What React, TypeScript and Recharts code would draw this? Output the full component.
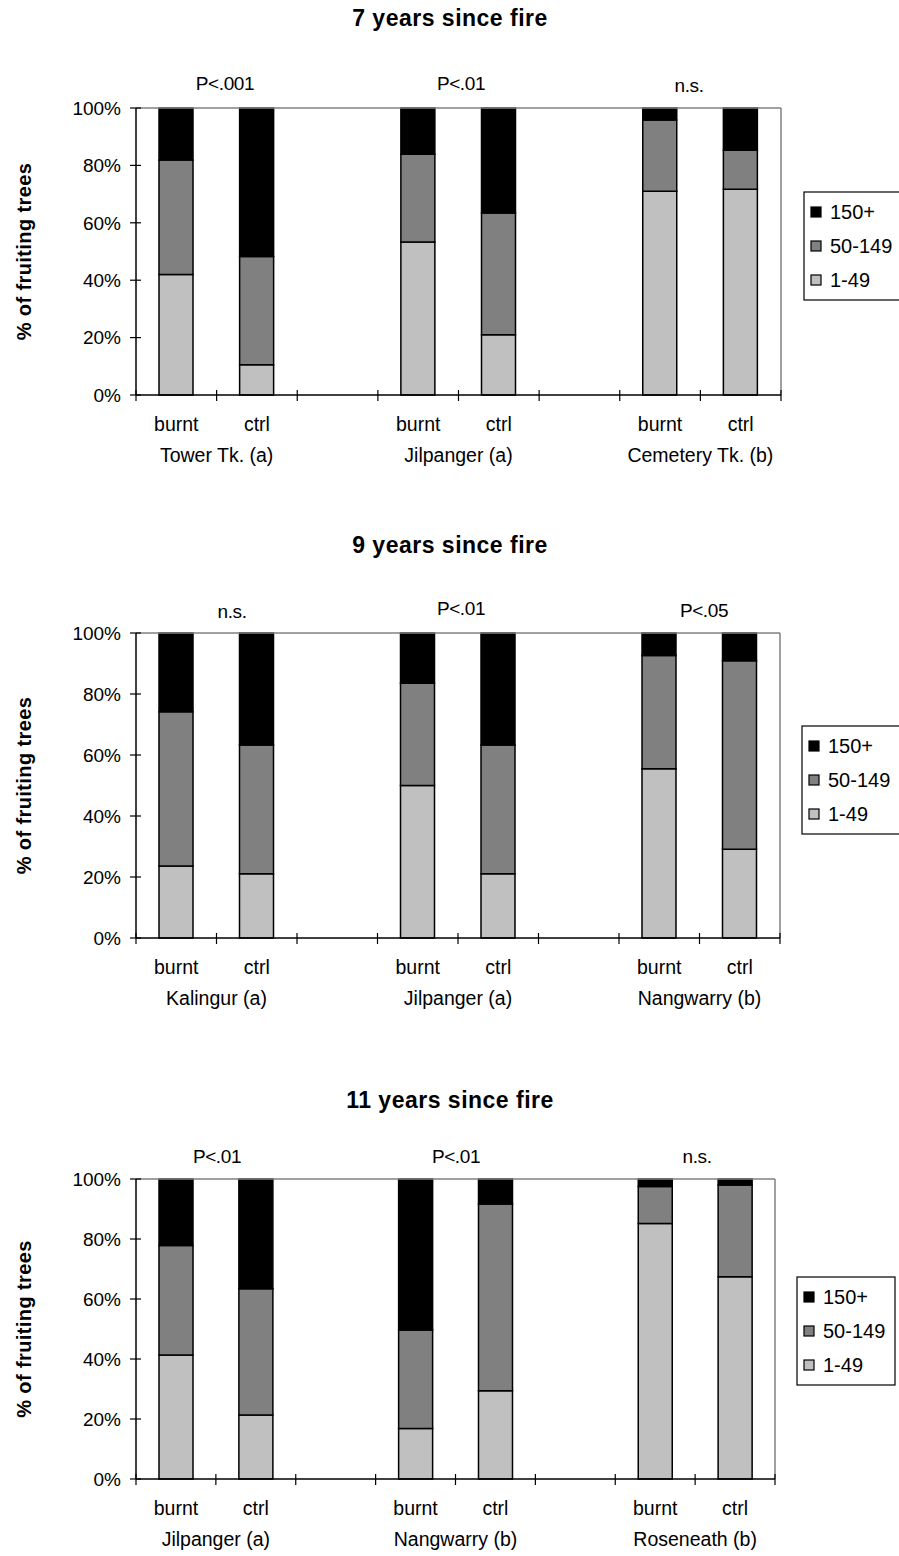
import React from "react";
import { Bar, BarChart, ReferenceLine, XAxis, YAxis } from "recharts";

const FONT = '"Liberation Sans", Arial, Helvetica, sans-serif';

// Shared categories: burnt / control pairs with an empty slot between sites
const slotLabels = ["burnt", "ctrl", "", "burnt", "ctrl", "", "burnt", "ctrl"];
const sizeClasses = ["150+", "50-149", "1-49"];
const pctTicks = [0, 20, 40, 60, 80, 100];

// 7 years since fire
const sites7 = ["Tower Tk. (a)", "Jilpanger (a)", "Cemetery Tk. (b)"];
const sig7 = ["P<.001", "P<.01", "n.s."];
const small7 = [42.0, 10.5, null, 53.3, 21.0, null, 71.0, 71.7];
const medium7 = [39.9, 37.8, null, 30.6, 42.4, null, 24.8, 13.6];
const large7 = [18.1, 51.7, null, 16.1, 36.6, null, 4.2, 14.7];

// 9 years since fire
const sites9 = ["Kalingur (a)", "Jilpanger (a)", "Nangwarry (b)"];
const sig9 = ["n.s.", "P<.01", "P<.05"];
const small9 = [23.6, 21.1, null, 50.0, 21.1, null, 55.5, 29.1];
const medium9 = [50.6, 42.2, null, 33.5, 42.2, null, 37.1, 61.8];
const large9 = [25.8, 36.7, null, 16.5, 36.7, null, 7.4, 9.1];

// 11 years since fire
const sites11 = ["Jilpanger (a)", "Nangwarry (b)", "Roseneath (b)"];
const sig11 = ["P<.01", "P<.01", "n.s."];
const small11 = [41.3, 21.3, null, 16.8, 29.4, null, 85.2, 67.4];
const medium11 = [36.5, 42.1, null, 32.9, 62.3, null, 12.3, 30.6];
const large11 = [22.2, 36.6, null, 50.3, 8.3, null, 2.5, 2.0];

const fills = { large: "#000000", medium: "#808080", small: "#c0c0c0" };

const PAGE_W = 899;
const PLOT_LEFT = 136;
const Y_AXIS_W = 70;
const X_AXIS_H = 70;

const layouts = [
	{ top: 0, height: 500, plotTop: 108, plotBottom: 395, plotRight: 781, titleY: 26, sigX: [225, 461, 689], sigY: [90, 90, 92], legend: { x: 804, y: 192, w: 130 } },
	{ top: 520, height: 525, plotTop: 633, plotBottom: 938, plotRight: 780, titleY: 553, sigX: [232, 461, 704], sigY: [618, 615, 617], legend: { x: 802, y: 726, w: 130 } },
	{ top: 1045, height: 511, plotTop: 1179, plotBottom: 1479, plotRight: 775, titleY: 1108, sigX: [217, 456, 697], sigY: [1163, 1163, 1163], legend: { x: 797, y: 1277, w: 98 } },
];

function SlotTick(props: any) {
	const { x, y, payload, width, visibleTicksCount, sites } = props;
	let band = width / visibleTicksCount;
	if (!Number.isFinite(band)) band = 2 * (payload.offset ?? 0);
	const half = band / 2;
	const i = payload.index ?? payload.value;
	const last = i === slotLabels.length - 1;
	return (
		<g>
			<line x1={x - half} x2={x - half} y1={y - 5} y2={y + 6} stroke="#000" strokeWidth={1.2} />
			{last && <line x1={x + half} x2={x + half} y1={y - 5} y2={y + 6} stroke="#000" strokeWidth={1.2} />}
			<text x={x} y={y + 36} textAnchor="middle" fontSize={19.5} fontFamily={FONT} fill="#000">
				{slotLabels[i]}
			</text>
			{i % 3 === 1 && (
				<text x={x - half} y={y + 67} textAnchor="middle" fontSize={19.5} fontFamily={FONT} fill="#000">
					{sites[(i - 1) / 3]}
				</text>
			)}
		</g>
	);
}

function PctTick(props: any) {
	const { x, y, payload } = props;
	return (
		<g>
			<line x1={x - 6} x2={x + 5} y1={y} y2={y} stroke="#000" strokeWidth={1.2} />
			<text x={x - 15} y={y} dy="0.36em" textAnchor="end" fontSize={19} fontFamily={FONT} fill="#000">
				{`${payload.value}%`}
			</text>
		</g>
	);
}

interface PanelProps {
	title: string;
	sites: string[];
	sig: string[];
	small: (number | null)[];
	medium: (number | null)[];
	large: (number | null)[];
	layout: (typeof layouts)[number];
}

function Panel({ title, sites, sig, small, medium, large, layout }: PanelProps) {
	const rows = slotLabels.map((label, i) => ({
		id: i,
		label,
		small: small[i],
		medium: medium[i],
		large: large[i],
	}));
	const { top, height, plotTop, plotBottom, plotRight, titleY, sigX, sigY, legend } = layout;
	const midY = (plotTop + plotBottom) / 2;
	const legendColors = [fills.large, fills.medium, fills.small];

	return (
		<>
			<div style={{ position: "absolute", left: 0, top, width: PAGE_W, height }}>
				<BarChart
					width={PAGE_W}
					height={height}
					data={rows}
					barSize={34}
					margin={{
						top: plotTop - top,
						right: PAGE_W - plotRight,
						left: PLOT_LEFT - Y_AXIS_W,
						bottom: height - (plotBottom - top) - X_AXIS_H,
					}}
				>
					<XAxis
						dataKey="id"
						type="category"
						interval={0}
						height={X_AXIS_H}
						tickSize={0}
						tickMargin={0}
						tickLine={false}
						axisLine={{ stroke: "#000", strokeWidth: 1.5 }}
						tick={<SlotTick sites={sites} />}
					/>
					<YAxis
						type="number"
						domain={[0, 100]}
						ticks={pctTicks}
						width={Y_AXIS_W}
						tickSize={0}
						tickMargin={0}
						tickLine={false}
						axisLine={{ stroke: "#000", strokeWidth: 1.5 }}
						tick={<PctTick />}
					/>
					<ReferenceLine y={100} stroke="#808080" strokeWidth={1.5} />
					<ReferenceLine x={7} position="end" stroke="#808080" strokeWidth={1.5} />
					<Bar dataKey="small" stackId="n" fill={fills.small} stroke="#000" strokeWidth={1.5} isAnimationActive={false} />
					<Bar dataKey="medium" stackId="n" fill={fills.medium} stroke="#000" strokeWidth={1.5} isAnimationActive={false} />
					<Bar dataKey="large" stackId="n" fill={fills.large} stroke="#000" strokeWidth={1.5} isAnimationActive={false} />
				</BarChart>
			</div>
			<svg
				width={PAGE_W}
				height={1556}
				style={{ position: "absolute", left: 0, top: 0, pointerEvents: "none" }}
			>
				<text x={450} y={titleY} textAnchor="middle" fontSize={23} fontWeight="bold" fontFamily={FONT} letterSpacing={0.5}>
					{title}
				</text>
				{sig.map((s, k) => (
					<text key={k} x={sigX[k]} y={sigY[k]} textAnchor="middle" fontSize={19} letterSpacing={-0.4} fontFamily={FONT}>
						{s}
					</text>
				))}
				<text
					x={24}
					y={midY}
					transform={`rotate(-90 24 ${midY})`}
					textAnchor="middle"
					dy="0.35em"
					fontSize={20}
					fontWeight="bold"
					letterSpacing={0.4}
					fontFamily={FONT}
				>
					% of fruiting trees
				</text>
				<rect x={legend.x} y={legend.y} width={legend.w} height={108} fill="#fff" stroke="#000" strokeWidth={1.2} />
				{sizeClasses.map((c, k) => {
					const cy = legend.y + 20 + k * 34;
					return (
						<g key={c}>
							<rect x={legend.x + 7} y={cy - 5} width={10} height={10} fill={legendColors[k]} stroke="#000" strokeWidth={1.2} />
							<text x={legend.x + 26} y={cy} dy="0.36em" fontSize={20} fontFamily={FONT}>
								{c}
							</text>
						</g>
					);
				})}
			</svg>
		</>
	);
}

export default function App() {
	return (
		<div
			style={{
				position: "absolute",
				left: 0,
				top: 0,
				width: PAGE_W,
				height: 1556,
				overflow: "hidden",
				background: "#fff",
			}}
		>
			<Panel title="7 years since fire" sites={sites7} sig={sig7} small={small7} medium={medium7} large={large7} layout={layouts[0]} />
			<Panel title="9 years since fire" sites={sites9} sig={sig9} small={small9} medium={medium9} large={large9} layout={layouts[1]} />
			<Panel title="11 years since fire" sites={sites11} sig={sig11} small={small11} medium={medium11} large={large11} layout={layouts[2]} />
		</div>
	);
}
